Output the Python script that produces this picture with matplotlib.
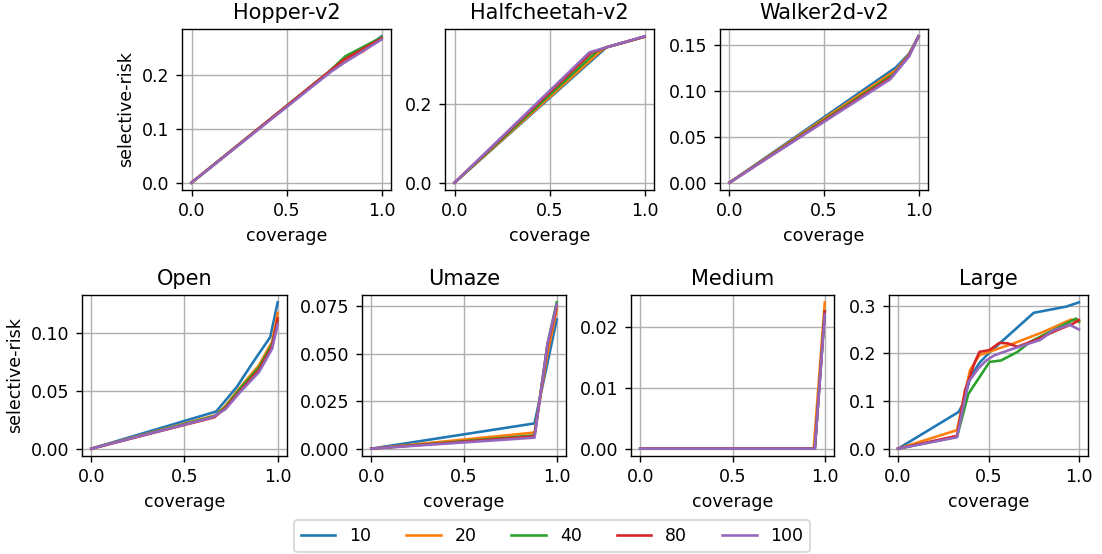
import numpy as np
import matplotlib
import matplotlib.pyplot as plt

matplotlib.use("Agg")

labels = ["10", "20", "40", "80", "100"]
colors = ["tab:blue", "tab:orange", "tab:green", "tab:red", "tab:purple"]

# each env: list of (coverage, risk) per series, in label order
hopper = [
    ([0, 0.72, 0.82, 0.9, 1.0], [0, 0.205, 0.235, 0.245, 0.272]),
    ([0, 0.72, 0.82, 0.9, 1.0], [0, 0.205, 0.232, 0.243, 0.270]),
    ([0, 0.72, 0.81, 1.0], [0, 0.205, 0.235, 0.270]),
    ([0, 0.72, 0.80, 1.0], [0, 0.205, 0.228, 0.268]),
    ([0, 0.73, 0.80, 1.0], [0, 0.205, 0.222, 0.266]),
]
halfcheetah = [
    ([0, 0.80, 1.0], [0, 0.345, 0.372]),
    ([0, 0.77, 0.80, 1.0], [0, 0.336, 0.345, 0.372]),
    ([0, 0.75, 0.80, 1.0], [0, 0.335, 0.345, 0.372]),
    ([0, 0.72, 0.80, 1.0], [0, 0.331, 0.345, 0.372]),
    ([0, 0.71, 0.80, 1.0], [0, 0.332, 0.345, 0.373]),
]
walker = [
    ([0, 0.88, 0.95, 1.0], [0, 0.126, 0.141, 0.160]),
    ([0, 0.88, 0.95, 1.0], [0, 0.123, 0.140, 0.160]),
    ([0, 0.87, 0.95, 1.0], [0, 0.119, 0.139, 0.160]),
    ([0, 0.86, 0.95, 1.0], [0, 0.116, 0.139, 0.160]),
    ([0, 0.85, 0.95, 1.0], [0, 0.113, 0.138, 0.160]),
]
open_maze = [
    ([0, 0.67, 0.78, 0.87, 0.96, 1.0], [0, 0.032, 0.053, 0.075, 0.096, 0.126]),
    ([0, 0.67, 0.72, 0.80, 0.90, 0.97, 1.0], [0, 0.029, 0.037, 0.053, 0.072, 0.092, 0.117]),
    ([0, 0.66, 0.72, 0.80, 0.90, 0.97, 1.0], [0, 0.028, 0.036, 0.052, 0.070, 0.090, 0.110]),
    ([0, 0.66, 0.72, 0.80, 0.90, 0.97, 1.0], [0, 0.027, 0.035, 0.050, 0.068, 0.088, 0.112]),
    ([0, 0.65, 0.72, 0.80, 0.90, 0.97, 1.0], [0, 0.027, 0.034, 0.049, 0.066, 0.086, 0.107]),
]
umaze = [
    ([0, 0.88, 0.95, 1.0], [0, 0.0133, 0.045, 0.068]),
    ([0, 0.88, 0.95, 1.0], [0, 0.0085, 0.050, 0.073]),
    ([0, 0.88, 0.95, 1.0], [0, 0.0070, 0.055, 0.077]),
    ([0, 0.88, 0.95, 1.0], [0, 0.0065, 0.054, 0.075]),
    ([0, 0.88, 0.95, 1.0], [0, 0.0058, 0.055, 0.076]),
]
medium = [
    ([0, 0.946, 1.0], [0, 0, 0.0225]),
    ([0, 0.94, 1.0], [0, 0, 0.0240]),
    ([0, 0.946, 1.0], [0, 0, 0.0225]),
    ([0, 0.946, 1.0], [0, 0, 0.0225]),
    ([0, 0.946, 1.0], [0, 0, 0.0220]),
]
large = [
    ([0, 0.335, 0.36, 0.40, 0.45, 0.50, 0.75, 0.93, 1.0],
     [0, 0.077, 0.095, 0.15, 0.18, 0.20, 0.285, 0.298, 0.307]),
    ([0, 0.326, 0.398, 0.45, 0.533, 0.64, 0.804, 0.957, 1.0],
     [0, 0.039, 0.165, 0.196, 0.207, 0.221, 0.245, 0.271, 0.267]),
    ([0, 0.326, 0.389, 0.506, 0.569, 0.66, 0.73, 0.876, 0.984, 1.0],
     [0, 0.025, 0.115, 0.182, 0.185, 0.203, 0.224, 0.252, 0.273, 0.266]),
    ([0, 0.326, 0.37, 0.425, 0.45, 0.506, 0.56, 0.605, 0.66, 0.768, 0.876, 0.966, 1.0],
     [0, 0.027, 0.122, 0.182, 0.203, 0.207, 0.222, 0.221, 0.214, 0.229, 0.248, 0.262, 0.270]),
    ([0, 0.326, 0.389, 0.443, 0.488, 0.533, 0.623, 0.696, 0.785, 0.858, 0.948, 1.0],
     [0, 0.024, 0.140, 0.168, 0.185, 0.196, 0.208, 0.217, 0.228, 0.248, 0.260, 0.250]),
]

yticks = [
    [0.0, 0.1, 0.2],
    [0.0, 0.2],
    [0.0, 0.05, 0.10, 0.15],
    [0.0, 0.05, 0.10],
    [0.0, 0.025, 0.05, 0.075],
    [0.0, 0.01, 0.02],
    [0.0, 0.1, 0.2, 0.3],
]

panels = [
    ("Hopper-v2", hopper, [182, 29, 391, 190], True),
    ("Halfcheetah-v2", halfcheetah, [445, 29, 654, 190], False),
    ("Walker2d-v2", walker, [720, 29, 928, 190], False),
    ("Open", open_maze, [82, 295, 287, 456], True),
    ("Umaze", umaze, [362, 295, 566, 456], False),
    ("Medium", medium, [631, 295, 834, 456], False),
    ("Large", large, [889, 295, 1088, 456], False),
]

W, H = 1102, 554
DPI = 125
fig = plt.figure(figsize=(W / DPI, H / DPI), dpi=DPI)

handles = None
for (title, series, (x0, y0, x1, y1), ylab), yt in zip(panels, yticks):
    ax = fig.add_axes([x0 / W, 1 - y1 / H, (x1 - x0) / W, (y1 - y0) / H])
    lines = []
    for (x, y), c, lab in zip(series, colors, labels):
        ln, = ax.plot(x, y, color=c, label=lab)
        lines.append(ln)
    ax.set_title(title)
    ax.set_xlabel("coverage")
    if ylab:
        ax.set_ylabel("selective-risk")
    ax.set_xticks([0, 0.5, 1.0])
    ax.set_yticks(yt)
    ax.grid(True)
    handles = lines

fig.legend(handles, labels, loc="lower center", ncol=5,
           bbox_to_anchor=(0.501, 0.0), borderaxespad=0.1)

fig.savefig("out.png", dpi=DPI)
